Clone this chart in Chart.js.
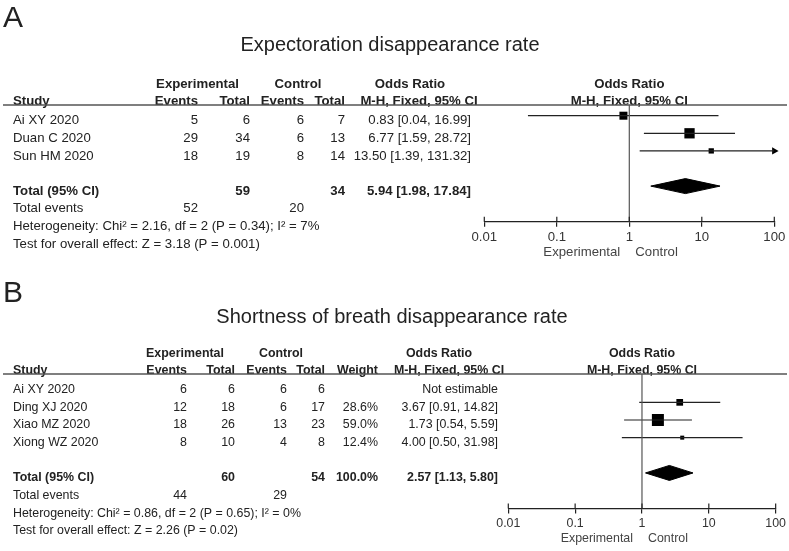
<!DOCTYPE html>
<html>
<head>
<meta charset="utf-8">
<script src="https://cdn.jsdelivr.net/npm/chart.js@4.4.1/dist/chart.umd.min.js"></script>
<style>
  body { margin: 0; background: #fff; }
  #wrap { position: relative; width: 789px; height: 551px; }
  canvas { position: absolute; left: 0; }
</style>
</head>
<body>
<div id="wrap">
  <canvas id="chartA" width="789" height="276" style="top:0"></canvas>
  <canvas id="chartB" width="789" height="275" style="top:276px"></canvas>
</div>
<script>
// ---- data: panel A (expectoration) ----
const studiesA = ['Ai XY 2020', 'Duan C 2020', 'Sun HM 2020'];
const expEventsA = [5, 29, 18];
const expTotalA = [6, 34, 19];
const ctlEventsA = [6, 6, 8];
const ctlTotalA = [7, 13, 14];
const oddsA = [0.83, 6.77, 13.50];
const lowerA = [0.04, 1.59, 1.39];
const upperA = [16.99, 28.72, 131.32];
const pooledA = [5.94, 1.98, 17.84];      // OR, lower, upper
const totalsA = [52, 59, 20, 34];          // exp events, exp total, ctl events, ctl total
const hetA = 'Heterogeneity: Chi² = 2.16, df = 2 (P = 0.34); I² = 7%';
const effectA = 'Test for overall effect: Z = 3.18 (P = 0.001)';

// ---- data: panel B (shortness of breath) ----
const studiesB = ['Ai XY 2020', 'Ding XJ 2020', 'Xiao MZ 2020', 'Xiong WZ 2020'];
const expEventsB = [6, 12, 18, 8];
const expTotalB = [6, 18, 26, 10];
const ctlEventsB = [6, 6, 13, 4];
const ctlTotalB = [6, 17, 23, 8];
const weightsB = [null, 28.6, 59.0, 12.4];
const oddsB = [null, 3.67, 1.73, 4.00];
const lowerB = [null, 0.91, 0.54, 0.50];
const upperB = [null, 14.82, 5.59, 31.98];
const pooledB = [2.57, 1.13, 5.80];
const totalsB = [44, 60, 29, 54];
const pooledWeightB = 100.0;
const hetB = 'Heterogeneity: Chi² = 0.86, df = 2 (P = 0.65); I² = 0%';
const effectB = 'Test for overall effect: Z = 2.26 (P = 0.02)';

const tickValues = [0.01, 0.1, 1, 10, 100];
const tickLabels = ['0.01', '0.1', '1', '10', '100'];

const FONT = '"Liberation Sans", Arial, Helvetica, sans-serif';
const TEXT = '#222';

// layout / style (pixels inside each canvas)
const layoutA = {
  letter: 'A', title: 'Expectoration disappearance rate', titleX: 390, titleY: 51, letterY: 27,
  height: 276, font: 13.2, top: 105, firstRow: 115.7, rowStep: 17.6, axis: 221.7,
  left: 484.3, right: 774.3,
  cols: { study: 13, ev1: 198, tot1: 250, ev2: 304, tot2: 345, weight: null, ci: 471 },
  heads: { exp: 197.5, ctl: 298, or: 410, mh: 419 },
  boxSide: [8, 10.3, 5.3], diamondHalf: 7.5
};
const layoutB = {
  letter: 'B', title: 'Shortness of breath disappearance rate', titleX: 392, titleY: 46.7, letterY: 25.7,
  height: 275, font: 12.4, top: 98, firstRow: 108.7, rowStep: 17.65, axis: 232.5,
  left: 508.3, right: 775.7,
  cols: { study: 13, ev1: 187, tot1: 235, ev2: 287, tot2: 325, weight: 378, ci: 498 },
  heads: { exp: 185, ctl: 281, or: 439, mh: 449 },
  boxSide: [0, 6.7, 12, 4], diamondHalf: 7.5
};

function txt(ctx, s, x, y, align, bold, size, color) {
  ctx.font = (bold ? 'bold ' : '') + size + 'px ' + FONT;
  ctx.textAlign = align;
  ctx.textBaseline = 'alphabetic';
  ctx.fillStyle = color || TEXT;
  ctx.fillText(s, x, y);
}

function tablePlugin(d, L) {
  return {
    id: 'forestTable',
    afterDraw(chart) {
      const ctx = chart.ctx;
      const ys = chart.scales.y, xs = chart.scales.x;
      const area = chart.chartArea;
      const c = L.cols, f = L.font;
      const rowY = r => ys.getPixelForValue(r) + 4 + f * 0.36;
      ctx.save();

      // panel letter and title
      txt(ctx, L.letter, 3, L.letterY, 'left', false, 30);
      txt(ctx, L.title, L.titleX, L.titleY, 'center', false, 20);

      // header
      const h1 = area.top - 17.5, h2 = area.top - 0.5;
      txt(ctx, 'Experimental', L.heads.exp, h1, 'center', true, f);
      txt(ctx, 'Control', L.heads.ctl, h1, 'center', true, f);
      txt(ctx, 'Odds Ratio', L.heads.or, h1, 'center', true, f);
      txt(ctx, 'Odds Ratio', (area.left + area.right) / 2, h1, 'center', true, f);
      txt(ctx, 'Study', c.study, h2, 'left', true, f);
      txt(ctx, 'Events', c.ev1, h2, 'right', true, f);
      txt(ctx, 'Total', c.tot1, h2, 'right', true, f);
      txt(ctx, 'Events', c.ev2, h2, 'right', true, f);
      txt(ctx, 'Total', c.tot2, h2, 'right', true, f);
      if (c.weight) txt(ctx, 'Weight', c.weight, h2, 'right', true, f);
      txt(ctx, 'M-H, Fixed, 95% CI', L.heads.mh, h2, 'center', true, f);
      txt(ctx, 'M-H, Fixed, 95% CI', (area.left + area.right) / 2, h2, 'center', true, f);

      ctx.strokeStyle = '#555';
      ctx.lineWidth = 1.5;
      ctx.beginPath();
      ctx.moveTo(3, area.top);
      ctx.lineTo(chart.width - 2, area.top);
      ctx.stroke();

      // study rows
      d.studies.forEach((s, i) => {
        const y = rowY(i + 1);
        txt(ctx, s, c.study, y, 'left', false, f);
        txt(ctx, String(d.expEvents[i]), c.ev1, y, 'right', false, f);
        txt(ctx, String(d.expTotal[i]), c.tot1, y, 'right', false, f);
        txt(ctx, String(d.ctlEvents[i]), c.ev2, y, 'right', false, f);
        txt(ctx, String(d.ctlTotal[i]), c.tot2, y, 'right', false, f);
        if (c.weight && d.weights[i] != null) txt(ctx, d.weights[i].toFixed(1) + '%', c.weight, y, 'right', false, f);
        const ci = d.odds[i] == null ? 'Not estimable'
          : d.odds[i].toFixed(2) + ' [' + d.lower[i].toFixed(2) + ', ' + d.upper[i].toFixed(2) + ']';
        txt(ctx, ci, c.ci, y, 'right', false, f);
      });

      // totals
      const n = d.studies.length;
      let y = rowY(n + 2);
      txt(ctx, 'Total (95% CI)', c.study, y, 'left', true, f);
      txt(ctx, String(d.totals[1]), c.tot1, y, 'right', true, f);
      txt(ctx, String(d.totals[3]), c.tot2, y, 'right', true, f);
      if (c.weight) txt(ctx, d.pooledWeight.toFixed(1) + '%', c.weight, y, 'right', true, f);
      const p = d.pooled;
      txt(ctx, p[0].toFixed(2) + ' [' + p[1].toFixed(2) + ', ' + p[2].toFixed(2) + ']', c.ci, y, 'right', true, f);
      y = rowY(n + 3);
      txt(ctx, 'Total events', c.study, y, 'left', false, f);
      txt(ctx, String(d.totals[0]), c.ev1, y, 'right', false, f);
      txt(ctx, String(d.totals[2]), c.ev2, y, 'right', false, f);
      txt(ctx, d.het, c.study, rowY(n + 4), 'left', false, f);
      txt(ctx, d.effect, c.study, rowY(n + 5), 'left', false, f);

      // upper halves of axis ticks
      ctx.strokeStyle = '#222';
      ctx.lineWidth = 1.2;
      tickValues.forEach(v => {
        const x = xs.getPixelForValue(v);
        ctx.beginPath();
        ctx.moveTo(x, area.bottom - 5);
        ctx.lineTo(x, area.bottom);
        ctx.stroke();
      });

      // favours labels
      const x1 = xs.getPixelForValue(1);
      const yl = area.bottom + 29.5 + f * 0.36;
      txt(ctx, 'Experimental', x1 - 9, yl, 'right', false, f, '#444');
      txt(ctx, 'Control', x1 + 6, yl, 'left', false, f, '#444');
      ctx.restore();
    }
  };
}

function buildPanel(canvasId, d, L) {
  const yMin = 1 - (L.firstRow - L.top) / L.rowStep;
  const yMax = 1 + (L.axis - L.firstRow) / L.rowStep;
  const totalRow = d.studies.length + 2;
  const xMax = tickValues[tickValues.length - 1];
  const datasets = [];

  // line of no effect
  datasets.push({
    type: 'line', data: [{ x: 1, y: yMin }, { x: 1, y: yMax }],
    borderColor: '#555', borderWidth: 1.2, pointRadius: 0
  });

  // confidence intervals
  const boxes = [], boxR = [];
  d.odds.forEach((or, i) => {
    if (or == null) return;
    const hi = Math.min(d.upper[i], xMax);
    datasets.push({
      type: 'line', data: [{ x: d.lower[i], y: i + 1 }, { x: hi, y: i + 1 }],
      borderColor: '#222', borderWidth: 1.2, pointRadius: 0
    });
    if (d.upper[i] > xMax) {
      datasets.push({
        type: 'scatter', data: [{ x: xMax, y: i + 1 }], clip: false,
        pointStyle: 'triangle', pointRotation: 90, pointRadius: 4.3,
        pointBackgroundColor: '#000', pointBorderWidth: 0
      });
    }
    boxes.push({ x: or, y: i + 1 });
    boxR.push(L.boxSide[i] / Math.SQRT2);
  });

  // study weights (squares)
  datasets.push({
    type: 'scatter', data: boxes, clip: false,
    pointStyle: 'rect', pointRadius: boxR,
    pointBackgroundColor: '#000', pointBorderWidth: 0
  });

  // pooled diamond
  const h = L.diamondHalf / L.rowStep;
  const [por, plo, phi] = d.pooled;
  datasets.push({
    type: 'line',
    data: [
      { x: plo, y: totalRow }, { x: por, y: totalRow - h },
      { x: phi, y: totalRow }, { x: por, y: totalRow + h }, { x: plo, y: totalRow }
    ],
    fill: 'shape', backgroundColor: '#000', borderColor: '#000', borderWidth: 1,
    pointRadius: 0, tension: 0
  });

  return new Chart(document.getElementById(canvasId), {
    type: 'scatter',
    data: { datasets },
    options: {
      responsive: false,
      animation: false,
      events: [],
      layout: {
        padding: { left: L.left, right: 789 - L.right, top: L.top, bottom: L.height - L.axis - 30 }
      },
      plugins: { legend: { display: false }, tooltip: { enabled: false } },
      scales: {
        x: {
          type: 'logarithmic', position: 'bottom',
          min: tickValues[0], max: xMax,
          afterBuildTicks: ax => { ax.ticks = tickValues.map(v => ({ value: v })); },
          afterFit: ax => { ax.height = 30; },
          ticks: {
            autoSkip: false, maxRotation: 0, padding: 3, color: '#333',
            font: { size: L.font, family: FONT },
            callback: (v, i) => tickLabels[i]
          },
          grid: { drawOnChartArea: false, drawTicks: true, tickLength: 5, color: '#222', lineWidth: 1.2 },
          border: { display: true, color: '#222', width: 1.2 }
        },
        y: { type: 'linear', reverse: true, min: yMin, max: yMax, display: false }
      }
    },
    plugins: [tablePlugin(d, L)]
  });
}

buildPanel('chartA', {
  studies: studiesA, expEvents: expEventsA, expTotal: expTotalA, ctlEvents: ctlEventsA, ctlTotal: ctlTotalA,
  weights: [], odds: oddsA, lower: lowerA, upper: upperA, pooled: pooledA, totals: totalsA,
  pooledWeight: null, het: hetA, effect: effectA
}, layoutA);

buildPanel('chartB', {
  studies: studiesB, expEvents: expEventsB, expTotal: expTotalB, ctlEvents: ctlEventsB, ctlTotal: ctlTotalB,
  weights: weightsB, odds: oddsB, lower: lowerB, upper: upperB, pooled: pooledB, totals: totalsB,
  pooledWeight: pooledWeightB, het: hetB, effect: effectB
}, layoutB);
</script>
</body>
</html>
